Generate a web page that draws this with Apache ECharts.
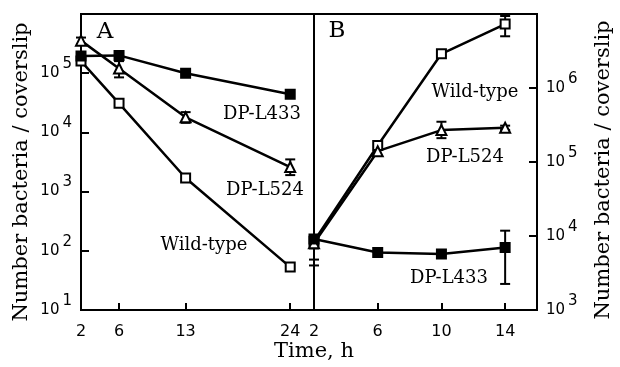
<!DOCTYPE html>
<html>
<head>
<meta charset="utf-8">
<script src="https://cdn.jsdelivr.net/npm/echarts@6/dist/echarts.min.js"></script>
<style>
  html, body { margin: 0; background: #fff; }
  #chart { width: 620px; height: 367px; }
</style>
</head>
<body>
<div id="chart"></div>
<script>
// panel A: survival (h 2..24)
var timesA = [2, 6, 13, 24];
var ticksA = [2, 6, 13, 24];
var aL433 = [1.95e5, 2.0e5, 1.0e5, 4.4e4];
var aL524 = [3.55e5, 1.2e5, 1.8e4, 2.6e3];
var aWild = [1.6e5, 3.1e4, 1.7e3, 53];
var errA524 = [[2, 3.1e5, 4.0e5], [6, 8.5e4, 1.6e5], [13, 1.45e4, 2.2e4], [24, 1.9e3, 3.5e3]];

// panel B: growth (h 2..14)
var timesB = [2, 6, 10, 14];
var ticksB = [2, 6, 10, 14];
var bWild = [8.5e3, 1.67e5, 2.9e6, 7.3e6];
var bL524 = [8.0e3, 1.4e5, 2.7e5, 2.9e5];
var bL433 = [9.1e3, 6.0e3, 5.7e3, 7.0e3];
var errBWild = [[2, 4.0e3, 9.0e3], [14, 5.0e6, 9.4e6]];
var errB524 = [[2, 4.8e3, 8.5e3], [10, 2.1e5, 3.5e5], [14, 2.7e5, 3.1e5]];
var errB433 = [[2, 6.8e3, 1.0e4], [14, 2.25e3, 1.18e4]];

var serif = '"DejaVu Serif"';
var sans = '"DejaVu Sans"';

function pairs(xs, ys) {
  return xs.map(function (x, i) { return [x, ys[i]]; });
}

function errorBar(params, api) {
  var x = api.value(0);
  var lo = api.coord([x, api.value(1)]);
  var hi = api.coord([x, api.value(2)]);
  var w = 5;
  var st = { stroke: "#000", lineWidth: 2 };
  return {
    type: "group",
    children: [
      { type: "line", shape: { x1: lo[0], y1: lo[1], x2: hi[0], y2: hi[1] }, style: st },
      { type: "line", shape: { x1: lo[0] - w, y1: lo[1], x2: lo[0] + w, y2: lo[1] }, style: st },
      { type: "line", shape: { x1: hi[0] - w, y1: hi[1], x2: hi[0] + w, y2: hi[1] }, style: st }
    ]
  };
}

function errSeries(idx, data) {
  return {
    type: "custom", xAxisIndex: idx, yAxisIndex: idx,
    renderItem: errorBar, data: data, encode: { x: 0, y: [1, 2] }, z: 1
  };
}

function lineSeries(idx, data, symbol, filled) {
  return {
    type: "line", xAxisIndex: idx, yAxisIndex: idx, data: data,
    symbol: symbol, symbolSize: symbol == "triangle" ? 10 : 9,
    showAllSymbol: true,
    lineStyle: { color: "#000", width: 2.5 },
    itemStyle: { color: filled ? "#000" : "#fff", borderColor: "#000", borderWidth: 2 },
    z: 3
  };
}

function xAxis(idx, max, ticks) {
  return {
    gridIndex: idx, type: "value", min: 2, max: max,
    axisLine: { lineStyle: { color: "#000", width: 2 } },
    axisTick: { inside: true, length: 7, customValues: ticks, lineStyle: { color: "#000", width: 2 } },
    axisLabel: { customValues: ticks, color: "#000", fontFamily: sans, fontSize: 16, margin: 14 },
    splitLine: { show: false }
  };
}

function yAxis(idx, min, max, pos) {
  return {
    gridIndex: idx, type: "log", logBase: 10, min: min, max: max, position: pos,
    axisLine: { lineStyle: { color: "#000", width: 2 } },
    axisTick: { inside: true, length: 8, lineStyle: { color: "#000", width: 2 } },
    axisLabel: {
      color: "#000", margin: 9,
      formatter: function (v) {
        if (v >= max * 0.99) return "";
        return "{b|10}{s|" + Math.round(Math.log10(v)) + "}";
      },
      rich: {
        b: { fontFamily: sans, fontSize: 15, padding: [9, 0, 9, 0] },
        s: { fontFamily: sans, fontSize: 15, padding: [0, 0, 18, 3] }
      }
    },
    splitLine: { show: false }
  };
}

function txt(x, y, text, size, rot) {
  return {
    type: "text", x: x, y: y, rotation: rot || 0,
    style: {
      text: text, fill: "#000", font: size + "px " + serif,
      textAlign: "center", textVerticalAlign: "middle"
    }
  };
}

var chart = echarts.init(document.getElementById("chart"));

var option = {
  animation: false,
  grid: [
    { left: 81, top: 14, width: 233, height: 296, show: true, borderColor: "#000", borderWidth: 2 },
    { left: 314, top: 14, width: 223, height: 296, show: true, borderColor: "#000", borderWidth: 2 }
  ],
  xAxis: [xAxis(0, 26.5, ticksA), xAxis(1, 16, ticksB)],
  yAxis: [yAxis(0, 10, 1e6, "left"), yAxis(1, 1e3, 1e7, "right")],
  series: [
    errSeries(0, errA524),
    lineSeries(0, pairs(timesA, aWild), "rect", false),
    lineSeries(0, pairs(timesA, aL524), "triangle", false),
    lineSeries(0, pairs(timesA, aL433), "rect", true),
    errSeries(1, errBWild),
    errSeries(1, errB524),
    errSeries(1, errB433),
    lineSeries(1, pairs(timesB, bWild), "rect", false),
    lineSeries(1, pairs(timesB, bL524), "triangle", false),
    lineSeries(1, pairs(timesB, bL433), "rect", true)
  ],
  graphic: [
    txt(105, 32, "A", 23),
    txt(337, 31, "B", 23),
    txt(262, 114, "DP-L433", 18),
    txt(265, 190, "DP-L524", 18),
    txt(204, 245, "Wild-type", 18),
    txt(475, 92, "Wild-type", 18),
    txt(465, 157, "DP-L524", 18),
    txt(449, 278, "DP-L433", 18),
    txt(314, 352, "Time, h", 21),
    txt(22, 172, "Number bacteria / coverslip", 21, Math.PI / 2),
    txt(604, 170, "Number bacteria / coverslip", 21, Math.PI / 2)
  ]
};

chart.setOption(option);
</script>
</body>
</html>
